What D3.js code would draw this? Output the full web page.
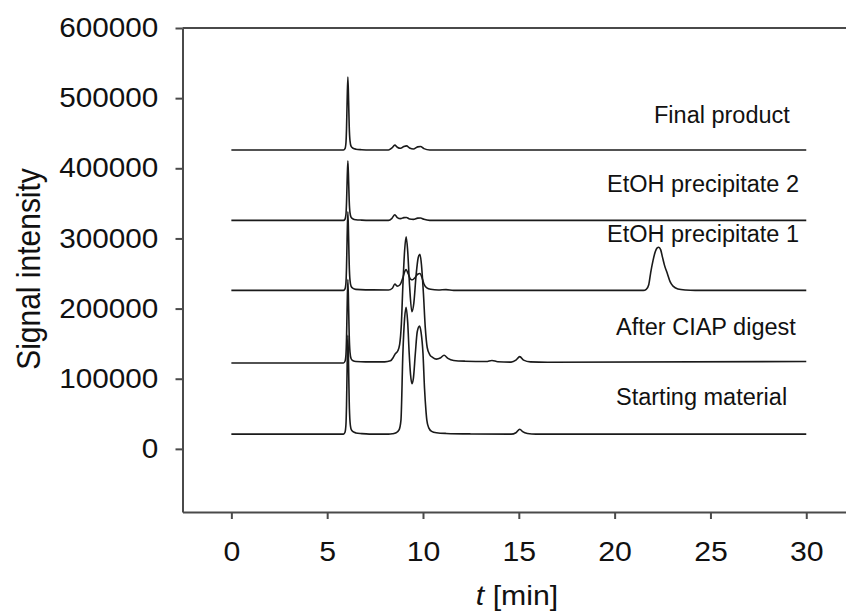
<!DOCTYPE html>
<html>
<head>
<meta charset="utf-8">
<script src="https://cdn.jsdelivr.net/npm/d3@7"></script>
<style>
  html, body { margin: 0; padding: 0; background: #fff; }
  svg { display: block; }
  text { font-family: "Liberation Sans", Arial, Helvetica, sans-serif; fill: #111; }
</style>
</head>
<body>
<div id="chart"></div>
<script>
// ---------------- DATA ----------------
const traceNames = ["Starting material", "After CIAP digest", "EtOH precipitate 1", "EtOH precipitate 2", "Final product"];
// vertical offsets of each chromatogram (signal units)
const offsets = [21000, 122500, 226000, 325700, 426000];

// retention time [min], signal above the trace baseline
const startingMaterial = [
  [0,0],[5.85,0],[5.93,2800],[5.98,14000],[6.01,42000],[6.04,92000],[6.08,141000],[6.12,92000],[6.15,46500],
  [6.19,18300],[6.25,7000],[6.35,3500],[6.5,1700],[6.8,700],[7.2,0],[8.2,0],[8.4,500],[8.6,2000],[8.75,6000],
  [8.85,20000],[8.95,115000],[9.04,165000],[9.12,181000],[9.2,160000],[9.28,115000],[9.35,85000],[9.42,72000],
  [9.5,80000],[9.6,115000],[9.7,146000],[9.82,154000],[9.9,145000],[10.0,115000],[10.08,65000],[10.15,35000],
  [10.2,20000],[10.3,9000],[10.45,4000],[10.7,2000],[11.2,1000],[12.5,300],[14.6,0],[14.85,2000],[15.05,7000],
  [15.2,3500],[15.45,1000],[15.9,0],[30,0]
];
const afterCIAP = [
  [0,0],[5.85,0],[5.93,2400],[5.98,12000],[6.01,36000],[6.04,77000],[6.08,119000],[6.12,77000],[6.15,39000],
  [6.19,15500],[6.25,6000],[6.35,3000],[6.5,2000],[7.0,1500],[8.0,1500],[8.3,3000],[8.45,8000],[8.55,13000],
  [8.68,17000],[8.78,26000],[8.87,55000],[8.95,110000],[9.04,160000],[9.12,180000],[9.2,160000],[9.3,110000],
  [9.42,73000],[9.52,85000],[9.64,125000],[9.75,150000],[9.84,155000],[9.92,140000],[10.02,100000],
  [10.12,50000],[10.22,22000],[10.35,12000],[10.5,8000],[10.7,5500],[10.9,7000],[11.1,11000],[11.3,6500],
  [11.6,3500],[12.2,2500],[13.3,2000],[13.6,3500],[13.9,1800],[14.6,1200],[14.85,4000],[15.05,9000],
  [15.25,4000],[15.6,1500],[16.5,1000],[30,2000]
];
const etohPrecipitate1 = [
  [0,0],[5.85,0],[5.93,2200],[5.98,11000],[6.01,33500],[6.04,73000],[6.08,112000],[6.12,73000],[6.15,37000],
  [6.19,14500],[6.25,5600],[6.35,2800],[6.5,1400],[7.0,700],[8.2,500],[8.4,3000],[8.53,9000],[8.65,6000],
  [8.8,8000],[8.95,18000],[9.05,27000],[9.12,29500],[9.22,24000],[9.35,16000],[9.45,15000],[9.58,18000],
  [9.72,23000],[9.84,24000],[9.95,18000],[10.05,9000],[10.2,3500],[10.4,1500],[10.8,500],[11.2,1000],[11.6,0],
  [21.5,0],[21.65,1500],[21.78,8000],[21.88,25000],[22.0,42000],[22.12,55000],[22.22,60500],[22.3,61500],
  [22.4,58000],[22.5,47000],[22.6,36000],[22.75,24000],[22.9,12000],[23.05,6000],[23.3,2000],[23.7,500],
  [24.2,0],[30,0]
];
const etohPrecipitate2 = [
  [0,0],[5.85,0],[5.93,1700],[5.98,8500],[6.01,25500],[6.04,55000],[6.08,85000],[6.12,55000],[6.15,28000],
  [6.19,11000],[6.25,4300],[6.35,2100],[6.5,1000],[6.8,400],[7.2,0],[8.2,0],[8.38,3000],[8.53,8000],
  [8.66,4000],[8.83,2500],[9.0,4000],[9.14,4200],[9.3,2000],[9.5,1500],[9.72,3200],[9.87,3500],[10.05,1500],
  [10.35,0],[30,0]
];
const finalProduct = [
  [0,0],[5.85,0],[5.93,2000],[5.98,10400],[6.01,31000],[6.04,68000],[6.08,104000],[6.12,68000],[6.15,34000],
  [6.19,13500],[6.25,5200],[6.35,2600],[6.5,1250],[6.8,500],[7.2,0],[8.2,0],[8.38,3000],[8.53,7000],
  [8.66,4000],[8.83,2500],[9.0,5000],[9.14,6000],[9.3,3000],[9.5,1500],[9.72,4500],[9.87,5000],[10.05,2000],
  [10.35,0],[30,0]
];
const traces = [startingMaterial, afterCIAP, etohPrecipitate1, etohPrecipitate2, finalProduct];

const xTicks = [0, 5, 10, 15, 20, 25, 30];
const yTicks = [0, 100000, 200000, 300000, 400000, 500000, 600000];
const xDomain = [-2.55, 32.1];
const yDomain = [-90000, 600000];

// label placement (pixels): left x, baseline y
const labelPos = [[616, 405], [616, 335], [607, 242], [607, 192], [654, 123]];

// ---------------- CHART ----------------
const W = 846, H = 616;
const svg = d3.select("#chart").append("svg").attr("width", W).attr("height", H);

const x = d3.scaleLinear().domain(xDomain).range([182.5, 846.5]);
const y = d3.scaleLinear().domain(yDomain).range([512, 28]);

const axisColor = "#4a4a4a";

// top frame line
svg.append("line")
  .attr("x1", x.range()[0]).attr("x2", x.range()[1])
  .attr("y1", y(yDomain[1])).attr("y2", y(yDomain[1]))
  .attr("stroke", axisColor).attr("stroke-width", 2);

const gy = svg.append("g").attr("transform", `translate(${x.range()[0]},0)`)
  .call(d3.axisLeft(y).tickValues(yTicks).tickFormat(d3.format("d")).tickSize(7).tickSizeOuter(0).tickPadding(15));
gy.select(".domain").attr("stroke", axisColor).attr("stroke-width", 2);
gy.selectAll(".tick line").attr("stroke", axisColor).attr("stroke-width", 2);
gy.selectAll(".tick text").attr("font-size", 27).attr("fill", "#111")
  .attr("font-family", "Liberation Sans, Arial, sans-serif")
  .attr("transform", "scale(1.1,1)");

const gx = svg.append("g").attr("transform", `translate(0,${y.range()[0]})`)
  .call(d3.axisBottom(x).tickValues(xTicks).tickFormat(d3.format("d")).tickSize(7).tickSizeOuter(0).tickPadding(22));
gx.select(".domain").attr("stroke", axisColor).attr("stroke-width", 2);
gx.selectAll(".tick line").attr("stroke", axisColor).attr("stroke-width", 2);
gx.selectAll(".tick text").attr("font-size", 28).attr("fill", "#111")
  .attr("font-family", "Liberation Sans, Arial, sans-serif")
  .attr("transform", "scale(1.08,1)");

// axis titles
svg.append("text")
  .attr("transform", `translate(39.5,269) scale(1.12,1) rotate(-90)`)
  .attr("text-anchor", "middle")
  .attr("font-size", 30)
  .text("Signal intensity");

const xt = svg.append("text")
  .attr("transform", `translate(517,605) scale(1.08,1)`)
  .attr("text-anchor", "middle")
  .attr("font-size", 28);
xt.append("tspan").attr("font-style", "italic").text("t");
xt.append("tspan").text(" [min]");

// traces
const line = d3.line()
  .x(d => x(d[0]))
  .y(d => y(d[1]))
  .curve(d3.curveMonotoneX);

traces.forEach((tr, i) => {
  const pts = tr.map(p => [p[0], p[1] + offsets[i]]);
  svg.append("path")
    .datum(pts)
    .attr("d", line)
    .attr("fill", "none")
    .attr("stroke", "#1a1a1a")
    .attr("stroke-width", 1.6)
    .attr("stroke-linejoin", "round");
});

// trace labels
traceNames.forEach((name, i) => {
  svg.append("text")
    .attr("x", labelPos[i][0])
    .attr("y", labelPos[i][1])
    .attr("font-size", 23.5)
    .text(name);
});
</script>
</body>
</html>
